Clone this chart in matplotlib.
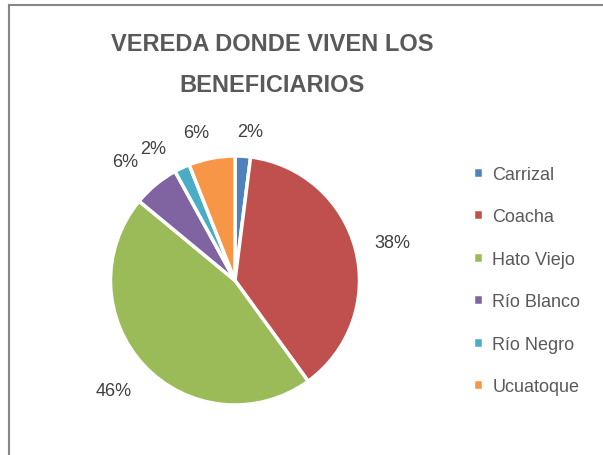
import numpy as np
import matplotlib.pyplot as plt
from matplotlib.lines import Line2D

veredas = ['Carrizal', 'Coacha', 'Hato Viejo', 'Río Blanco', 'Río Negro', 'Ucuatoque']
beneficiarios = [1, 19, 23, 3, 1, 3]
colores = ['#4F81BD', '#C0504D', '#9BBB59', '#8064A2', '#4BACC6', '#F79646']
titulo = 'VEREDA DONDE VIVEN LOS\nBENEFICIARIOS'

# distancia y giro de cada etiqueta de porcentaje (como las pone Excel)
dist_etiqueta = [1.2, 1.3, 1.32, 1.3, 1.25, 1.23]
giro_etiqueta = [-2.4, -1.0, -1.0, 3.3, 6.5, 3.9]

plt.rcParams['font.family'] = ['Liberation Sans', 'DejaVu Sans']

W, H = 603, 456
fig = plt.figure(figsize=(W / 100, H / 100), dpi=100)

# marco del grafico (recortado)
gris = '#868686'
fig.add_artist(Line2D([9 / W, 1], [1 - 6 / H, 1 - 6 / H], color=gris, lw=1.5))
fig.add_artist(Line2D([9 / W, 9 / W], [0, 1 - 6 / H], color=gris, lw=1.5))

cx, cy, r = 235, 456 - 281.5, 124.5
ax = fig.add_axes([(cx - r) / W, (cy - r) / H, 2 * r / W, 2 * r / H])
wedges, _, pcts = ax.pie(beneficiarios, colors=colores, startangle=90, counterclock=False,
                         autopct='%1.0f%%', pctdistance=1.25,
                         wedgeprops=dict(edgecolor='white', linewidth=2.5),
                         textprops=dict(color='#404040', fontsize=13))
for w, t, d, g in zip(wedges, pcts, dist_etiqueta, giro_etiqueta):
    ang = np.deg2rad((w.theta1 + w.theta2) / 2 + g)
    t.set_position((d * np.cos(ang), d * np.sin(ang)))
ax.set_xlim(-1, 1)
ax.set_ylim(-1, 1)

fig.text(272 / W, 1 - 65 / H, titulo, ha='center', va='center', fontsize=17,
         fontweight='bold', color='#595959', linespacing=1.98)

fig.legend(wedges, veredas, loc='center left', bbox_to_anchor=(457 / W, 1 - 281.5 / H),
           frameon=False, fontsize=13, handlelength=0.55, handleheight=0.55,
           handletextpad=0.5, labelspacing=1.41, labelcolor='#595959')

fig.savefig('out.png', dpi=100)
